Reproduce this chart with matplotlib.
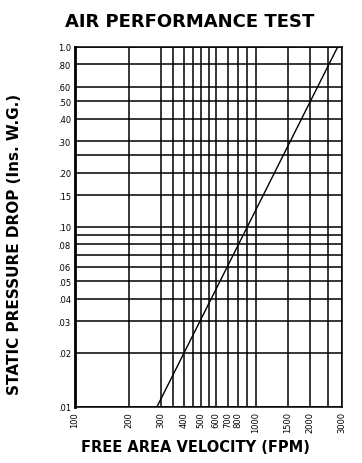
import matplotlib
matplotlib.use("Agg")
import matplotlib.pyplot as plt
from matplotlib.ticker import FixedLocator, NullLocator

# curve (pressure grows with the square of velocity)
velocity = [284, 500, 1000, 1500, 2000, 2840]
pressure = [0.01, 0.031, 0.124, 0.279, 0.496, 1.0]

# grid lines
x_grid = [100, 200, 300, 350, 400, 450, 500, 550, 600, 700, 800, 900,
          1000, 1500, 2000, 2500, 3000]
y_grid = [0.01, 0.02, 0.03, 0.04, 0.05, 0.06, 0.07, 0.08, 0.09, 0.10,
          0.15, 0.20, 0.25, 0.30, 0.40, 0.50, 0.60, 0.80, 1.0]

# labelled ticks
x_ticks = [100, 200, 300, 400, 500, 600, 700, 800, 1000, 1500, 2000, 3000]
x_labels = ['100', '200', '300', '400', '500', '600', '700', '800',
            '1000', '1500', '2000', '3000']
y_ticks = [0.01, 0.02, 0.03, 0.04, 0.05, 0.06, 0.08, 0.10, 0.15, 0.20,
           0.30, 0.40, 0.50, 0.60, 0.80, 1.0]
y_labels = ['.01', '.02', '.03', '.04', '.05', '.06', '.08', '.10', '.15',
            '.20', '.30', '.40', '.50', '.60', '.80', '1.0']

fig = plt.figure(figsize=(3.62, 4.64), dpi=100)
ax = fig.add_axes([0.207, 0.1207, 0.7376, 0.7759])

ax.set_xscale('log')
ax.set_yscale('log')
ax.set_xlim(100, 3000)
ax.set_ylim(0.01, 1.0)

for x in x_grid:
    ax.axvline(x, color='black', lw=1.1)
for y in y_grid:
    ax.axhline(y, color='black', lw=1.1)

ax.plot(velocity, pressure, color='black', lw=1.0)

ax.xaxis.set_major_locator(FixedLocator(x_ticks))
ax.xaxis.set_minor_locator(NullLocator())
ax.set_xticklabels(x_labels, rotation=90, fontsize=6)
ax.yaxis.set_major_locator(FixedLocator(y_ticks))
ax.yaxis.set_minor_locator(NullLocator())
ax.set_yticklabels(y_labels, fontsize=6)
ax.tick_params(length=0, pad=3)

for side in ['top', 'right', 'bottom']:
    ax.spines[side].set_linewidth(1.1)
ax.spines['left'].set_linewidth(2.0)

fig.text(0.523, 0.953, 'AIR PERFORMANCE TEST', ha='center', va='center',
         fontsize=13, fontweight='heavy')
fig.text(0.541, 0.036, 'FREE AREA VELOCITY (FPM)', ha='center', va='center',
         fontsize=10.5, fontweight='bold')
fig.text(0.039, 0.474, 'STATIC PRESSURE DROP (Ins. W.G.)', ha='center',
         va='center', rotation=90, fontsize=11, fontweight='bold')

fig.savefig('out.png', dpi=100)
